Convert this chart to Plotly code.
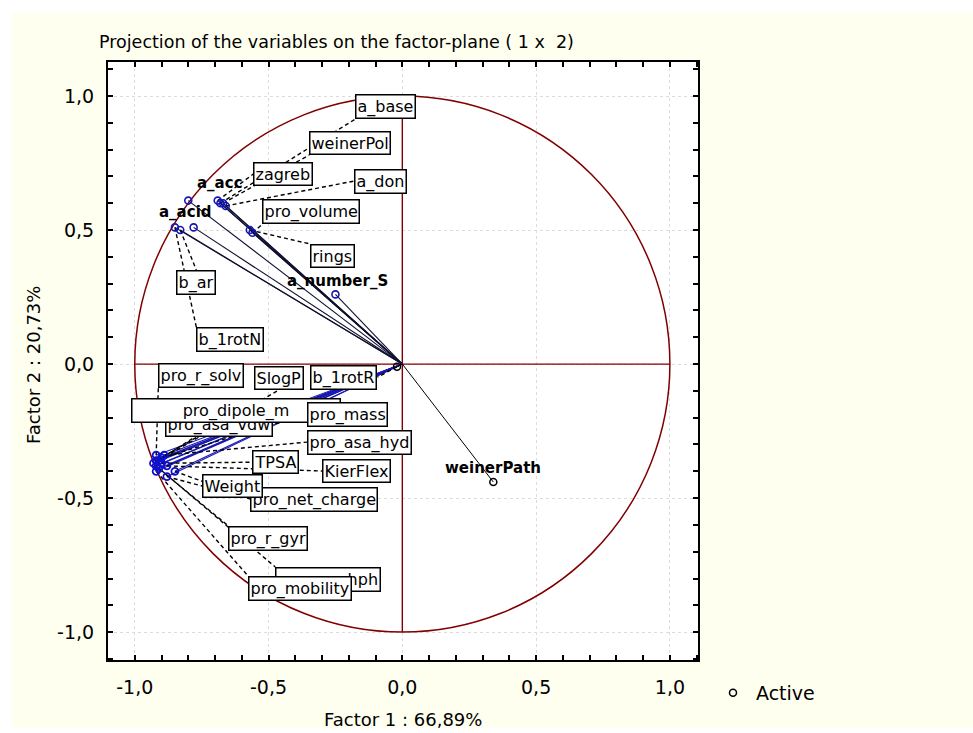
import plotly.graph_objects as go

# ---- loadings of the variables on factor 1 and factor 2 ----
upper_names = ["a_base", "weinerPol", "zagreb", "a_don", "a_acc", "a_acid",
               "pro_volume", "rings", "b_ar", "b_1rotN", "a_number_S"]
upper_f1 = [-0.68, -0.67, -0.69, -0.66, -0.80, -0.78, -0.56, -0.57, -0.83, -0.85, -0.25]
upper_f2 = [0.60, 0.60, 0.61, 0.59, 0.61, 0.51, 0.49, 0.50, 0.50, 0.51, 0.26]

lower_names = ["pro_r_solv", "SlogP", "pro_asa_vdw", "pro_dipole_m", "pro_mass",
               "pro_asa_hyd", "TPSA", "KierFlex", "pro_net_charge", "Weight",
               "pro_r_gyr", "pro_asa_hph", "pro_mobility"]
lower_f1 = [-0.92, -0.91, -0.92, -0.93, -0.90, -0.89, -0.90, -0.88, -0.85, -0.88, -0.91, -0.92, -0.92]
lower_f2 = [-0.34, -0.36, -0.36, -0.37, -0.35, -0.34, -0.37, -0.38, -0.40, -0.42, -0.39, -0.38, -0.40]

other_names = ["b_1rotR", "weinerPath"]
other_f1 = [-0.02, 0.34]
other_f2 = [-0.01, -0.44]

title_text = "Projection of the variables on the factor-plane ( 1 x  2)"
x_title = "Factor 1 : 66,89%"
y_title = "Factor 2 : 20,73%"
tick_vals = [-1.0, -0.5, 0.0, 0.5, 1.0]
tick_text = ["-1,0", "-0,5", "0,0", "0,5", "1,0"]

# ---- label placement: (x, y, xanchor, yanchor, boxed, box width) ----
label_place = {
    "a_base":        (-0.176, 0.914, "left", "bottom", True, None),
    "weinerPol":     (-0.348, 0.780, "left", "bottom", True, None),
    "zagreb":        (-0.557, 0.709, "left", "middle", True, None),
    "a_don":         (-0.179, 0.683, "left", "middle", True, None),
    "a_acc":         (-0.680, 0.675, "center", "middle", False, None),
    "a_acid":        (-0.811, 0.567, "center", "middle", False, None),
    "pro_volume":    (-0.523, 0.522, "left", "bottom", True, None),
    "rings":         (-0.344, 0.448, "left", "top", True, None),
    "b_ar":          (-0.770, 0.351, "center", "top", True, None),
    "b_1rotN":       (-0.770, 0.138, "left", "top", True, None),
    "a_number_S":    (-0.243, 0.310, "center", "middle", False, None),
    "pro_r_solv":    (-0.912, -0.090, "left", "bottom", True, None),
    "SlogP":         (-0.462, -0.097, "center", "bottom", True, None),
    "b_1rotR":       (-0.093, -0.049, "right", "middle", True, None),
    "pro_asa_vdw":   (-0.684, -0.224, "center", "middle", True, None),
    "pro_dipole_m":  (-0.622, -0.175, "center", "middle", True, 205),
    "pro_mass":      (-0.355, -0.187, "left", "middle", True, None),
    "pro_asa_hyd":   (-0.355, -0.291, "left", "middle", True, None),
    "TPSA":          (-0.561, -0.366, "left", "middle", True, None),
    "KierFlex":      (-0.299, -0.399, "left", "middle", True, None),
    "pro_net_charge": (-0.568, -0.504, "left", "middle", True, None),
    "Weight":        (-0.748, -0.455, "left", "middle", True, None),
    "pro_r_gyr":     (-0.650, -0.604, "left", "top", True, None),
    "pro_asa_hph":   (-0.475, -0.757, "left", "top", True, None),
    "pro_mobility":  (-0.576, -0.791, "left", "top", True, None),
    "weinerPath":    (0.340, -0.388, "center", "middle", False, None),
}
# labels drawn last so their boxes sit on top of their neighbours
on_top = ["pro_dipole_m", "pro_mass", "Weight", "pro_mobility"]

FONT = "DejaVu Sans"
DARK_RED = "#800000"
PAPER_W, PAPER_H = 973, 733
M_L, M_R, M_T, M_B = 108, 275, 62, 73
PLOT_W = PAPER_W - M_L - M_R
PLOT_H = PAPER_H - M_T - M_B

fig = go.Figure()


def vectors(xs, ys, color, width):
    vx, vy = [], []
    for a, b in zip(xs, ys):
        vx += [0, a, None]
        vy += [0, b, None]
    fig.add_trace(go.Scatter(x=vx, y=vy, mode="lines", hoverinfo="skip",
                             line=dict(color=color, width=width), showlegend=False))


# vectors from the origin to every variable
vectors(upper_f1, upper_f2, "#101030", 1.1)
vectors(lower_f1, lower_f2, "#1818b0", 1.1)
vectors(other_f1, other_f2, "#000000", 1.0)

# dashed leader lines from each point to its boxed label
all_names = upper_names + lower_names + other_names
all_f1 = upper_f1 + lower_f1 + other_f1
all_f2 = upper_f2 + lower_f2 + other_f2
lx, ly = [], []
for n, a, b in zip(all_names, all_f1, all_f2):
    px, py, _, _, boxed, _ = label_place[n]
    if boxed:
        lx += [a, px, None]
        ly += [b, py, None]
fig.add_trace(go.Scatter(x=lx, y=ly, mode="lines", hoverinfo="skip", showlegend=False,
                         line=dict(color="black", width=1.4, dash="4px,3px")))

# variable points
fig.add_trace(go.Scatter(x=upper_f1, y=upper_f2, text=upper_names, mode="markers",
                         showlegend=False,
                         marker=dict(symbol="circle-open", size=7, color="#1515b5",
                                     line=dict(width=1.6))))
fig.add_trace(go.Scatter(x=lower_f1, y=lower_f2, text=lower_names, mode="markers",
                         showlegend=False,
                         marker=dict(symbol="circle-open", size=7, color="#1010d0",
                                     line=dict(width=1.8))))
fig.add_trace(go.Scatter(x=other_f1, y=other_f2, text=other_names, mode="markers",
                         showlegend=False,
                         marker=dict(symbol="circle-open", size=7, color="black",
                                     line=dict(width=1.5))))
# legend entry
fig.add_trace(go.Scatter(x=[None], y=[None], mode="markers", name="Active",
                         marker=dict(symbol="circle-open", size=7, color="black",
                                     line=dict(width=1.5))))

# labels
annotations = []
order = [n for n in all_names if n not in on_top] + on_top
for n in order:
    px, py, xa, ya, boxed, w = label_place[n]
    ann = dict(x=px, y=py, xref="x", yref="y", text=n, showarrow=False,
               xanchor=xa, yanchor=ya, font=dict(family=FONT, size=16, color="black"))
    if boxed:
        ann.update(bgcolor="white", bordercolor="black", borderwidth=1.5, borderpad=1)
        if w:
            ann["width"] = w
    else:
        ann["text"] = "<b>" + n + "</b>"
        ann["font"] = dict(family=FONT, size=15, color="black")
    annotations.append(ann)

# axis titles
annotations.append(dict(x=(403 - M_L) / PLOT_W, y=(660 - 719) / PLOT_H, xref="paper", yref="paper",
                        text=x_title, showarrow=False, xanchor="center", yanchor="middle",
                        font=dict(family=FONT, size=18, color="black")))
annotations.append(dict(x=(33 - M_L) / PLOT_W, y=(660 - 365) / PLOT_H, xref="paper", yref="paper",
                        text=y_title, showarrow=False, textangle=-90,
                        xanchor="center", yanchor="middle",
                        font=dict(family=FONT, size=18, color="black")))

shapes = [
    # cream page with a thin white border
    dict(type="rect", xref="paper", yref="paper", layer="below",
         x0=(12 - M_L) / PLOT_W, x1=(973 - M_L) / PLOT_W,
         y0=(660 - 728) / PLOT_H, y1=(660 - 13) / PLOT_H,
         fillcolor="#fffff0", line=dict(width=0)),
    dict(type="rect", xref="paper", yref="paper", layer="below",
         x0=0, x1=1, y0=0, y1=1, fillcolor="white", line=dict(width=0)),
    # unit circle and the axes through the origin
    dict(type="circle", xref="x", yref="y", x0=-1, y0=-1, x1=1, y1=1,
         line=dict(color=DARK_RED, width=1.5), layer="between"),
    dict(type="line", xref="x", yref="y", x0=0, y0=-1, x1=0, y1=1,
         line=dict(color=DARK_RED, width=1.4), layer="between"),
    dict(type="line", xref="x", yref="y", x0=-1, y0=0, x1=1, y1=0,
         line=dict(color=DARK_RED, width=1.4), layer="between"),
]

axis_common = dict(
    tickvals=tick_vals, ticktext=tick_text, ticks="inside", ticklen=5, tickwidth=1.5,
    tickcolor="black", showline=True, linecolor="black", linewidth=2, mirror="allticks",
    showgrid=True, gridcolor="#dcdcdc", griddash="dot", gridwidth=1, zeroline=False,
    tickfont=dict(family=FONT, size=19, color="black"),
    minor=dict(dtick=0.1, tick0=0, ticks="inside", ticklen=5, tickwidth=1.5,
               tickcolor="black", showgrid=False),
)

fig.update_layout(
    width=PAPER_W, height=PAPER_H, autosize=False,
    margin=dict(l=M_L, r=M_R, t=M_T, b=M_B, pad=0),
    paper_bgcolor="white", plot_bgcolor="white",
    title=dict(text=title_text, xref="container", yref="container",
               x=99 / PAPER_W, xanchor="left", y=1 - 42 / PAPER_H, yanchor="middle",
               font=dict(family=FONT, size=17.5, color="black")),
    xaxis=dict(range=[-1.1, 1.105], ticklabelstandoff=9, **axis_common),
    yaxis=dict(range=[-1.104, 1.127], ticklabelstandoff=8, **axis_common),
    showlegend=True,
    legend=dict(x=(710 - M_L) / PLOT_W, y=(660 - 693) / PLOT_H, xanchor="left", yanchor="middle",
                itemwidth=36,
                bgcolor="rgba(0,0,0,0)", font=dict(family=FONT, size=19, color="black")),
    annotations=annotations, shapes=shapes,
    hovermode=False,
)

fig.write_html("out.html")
